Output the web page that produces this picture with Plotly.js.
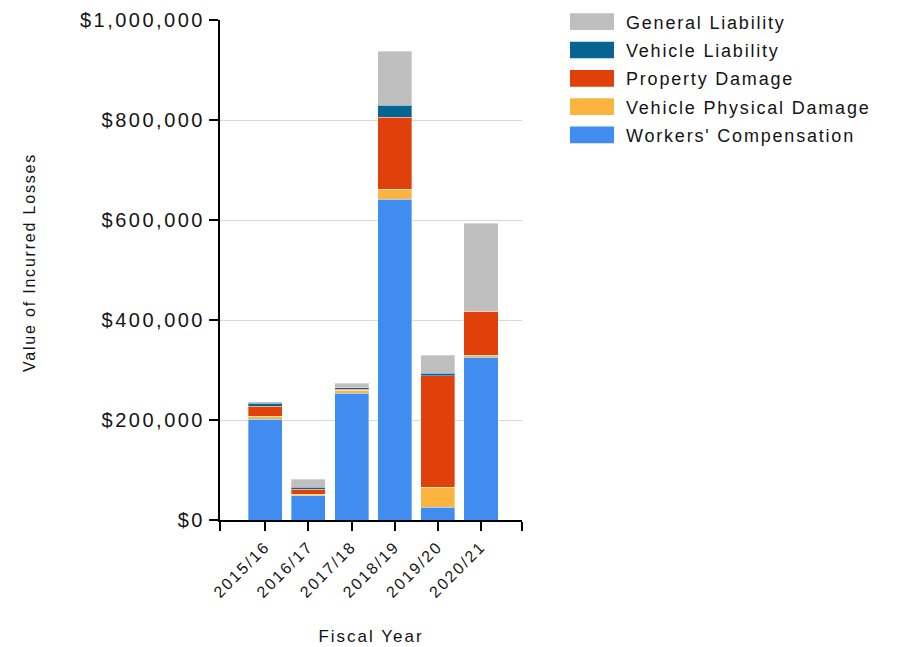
<!DOCTYPE html>
<html>
<head>
<meta charset="utf-8">
<script src="https://cdn.plot.ly/plotly-3.0.1.min.js"></script>
<style>
  html, body { margin: 0; padding: 0; background: #fff; }
  #chart { width: 898px; height: 647px; }
  /* wide, airy lettering for all chart text */
  .ytick text { letter-spacing: 2.5px; }
  .xtick text { letter-spacing: 2px; }
  .g-xtitle text { letter-spacing: 2px; }
  .g-ytitle text { letter-spacing: 1.8px; }
  .annotation-text { letter-spacing: 1.8px; }
</style>
</head>
<body>
<div id="chart"></div>
<script>
// Incurred losses by fiscal year, split by coverage line (US dollars)
const fiscalYears = ['2015/16', '2016/17', '2017/18', '2018/19', '2019/20', '2020/21'];

const workersComp      = [201400,  48600, 253400, 641400,  25400, 325400];
const vehiclePhysical  = [  6600,   3400,   6600,  20000,  40000,   4600];
const propertyDamage   = [ 20000,   9400,   1200, 144000, 223300,  88000];
const vehicleLiability = [  5400,   4000,   3800,  24600,   4700,      0];
const generalLiability = [  3200,  16000,   8400, 108000,  36000, 175400];

const yTickValues = [0, 200000, 400000, 600000, 800000, 1000000];

// stacking order, bottom to top
const series = [
  { name: "Workers' Compensation",  values: workersComp,      color: '#418CF0' },
  { name: 'Vehicle Physical Damage', values: vehiclePhysical,  color: '#FCB441' },
  { name: 'Property Damage',         values: propertyDamage,   color: '#E0400A' },
  { name: 'Vehicle Liability',       values: vehicleLiability, color: '#056492' },
  { name: 'General Liability',       values: generalLiability, color: '#BFBFBF' }
];

const xIndex = fiscalYears.map((_, i) => i);
const xRange = [-1.05, 5.95];
const textColor = '#141414';

const traces = series.map(s => ({
  type: 'bar',
  name: s.name,
  x: xIndex,
  y: s.values,
  width: 0.79,
  marker: { color: s.color, line: { color: 'rgba(255,255,255,0.35)', width: 1 } },
  hovertemplate: '%{text}<br>' + s.name + ': $%{y:,.0f}<extra></extra>',
  text: fiscalYears,
  textposition: 'none',
  showlegend: false
}));

// plot frame in pixels
const W = 898, H = 647;
const plotL = 220, plotR = 522, plotT = 20, plotB = 520;
const px2x = px => (px - plotL) / (plotR - plotL);
const px2y = py => (plotB - py) / (plotB - plotT);

// legend: swatches and labels, top entry = top of the stack
const legendRows = series.slice().reverse();
const rowTop = 21.7, rowStep = 28.3, swatchH = 16.7;
const shapes = [];
const annotations = [];
legendRows.forEach((s, i) => {
  const cy = rowTop + i * rowStep;
  shapes.push({
    type: 'rect', xref: 'paper', yref: 'paper',
    x0: px2x(570), x1: px2x(614),
    y0: px2y(cy + swatchH / 2), y1: px2y(cy - swatchH / 2),
    fillcolor: s.color, line: { width: 0 }
  });
  annotations.push({
    xref: 'paper', yref: 'paper',
    x: px2x(624), y: px2y(cy + 1),
    xanchor: 'left', yanchor: 'middle',
    text: s.name, showarrow: false,
    font: { family: 'Liberation Sans, Arial, sans-serif', size: 18, color: textColor }
  });
});

// vertical axis title
annotations.push({
  xref: 'paper', yref: 'paper',
  x: px2x(29), y: px2y(263),
  xanchor: 'center', yanchor: 'middle',
  textangle: -90,
  text: 'Value of Incurred Losses', showarrow: false,
  font: { family: 'Liberation Sans, Arial, sans-serif', size: 16, color: textColor }
});

const layout = {
  width: W, height: H,
  margin: { l: plotL, r: W - plotR, t: plotT, b: H - plotB },
  paper_bgcolor: '#ffffff',
  plot_bgcolor: '#ffffff',
  barmode: 'stack',
  bargap: 0.2,
  font: { family: 'Liberation Sans, Arial, sans-serif', color: textColor },
  xaxis: {
    type: 'linear',
    range: xRange,
    tickmode: 'array',
    tickvals: [xRange[0]].concat(xIndex, [xRange[1]]),
    ticktext: [''].concat(fiscalYears, ['']),
    tickangle: -45,
    tickfont: { size: 16, color: textColor },
    ticks: 'outside', ticklen: 9, tickwidth: 1.5, tickcolor: '#000',
    showline: true, linecolor: '#000', linewidth: 2,
    showgrid: false, zeroline: false,
    title: { text: 'Fiscal Year', font: { size: 17, color: textColor }, standoff: 30 }
  },
  yaxis: {
    range: [0, 1000000],
    tickmode: 'array',
    tickvals: yTickValues,
    tickformat: '$,.0f',
    tickfont: { size: 20, color: textColor },
    ticks: 'outside', ticklen: 9, tickwidth: 1.5, tickcolor: '#000',
    showline: true, linecolor: '#000', linewidth: 2,
    showgrid: true, gridcolor: '#d8d8d8', gridwidth: 1,
    zeroline: false
  },
  shapes: shapes,
  annotations: annotations
};

Plotly.newPlot('chart', traces, layout, { displayModeBar: false, responsive: false });
</script>
</body>
</html>
